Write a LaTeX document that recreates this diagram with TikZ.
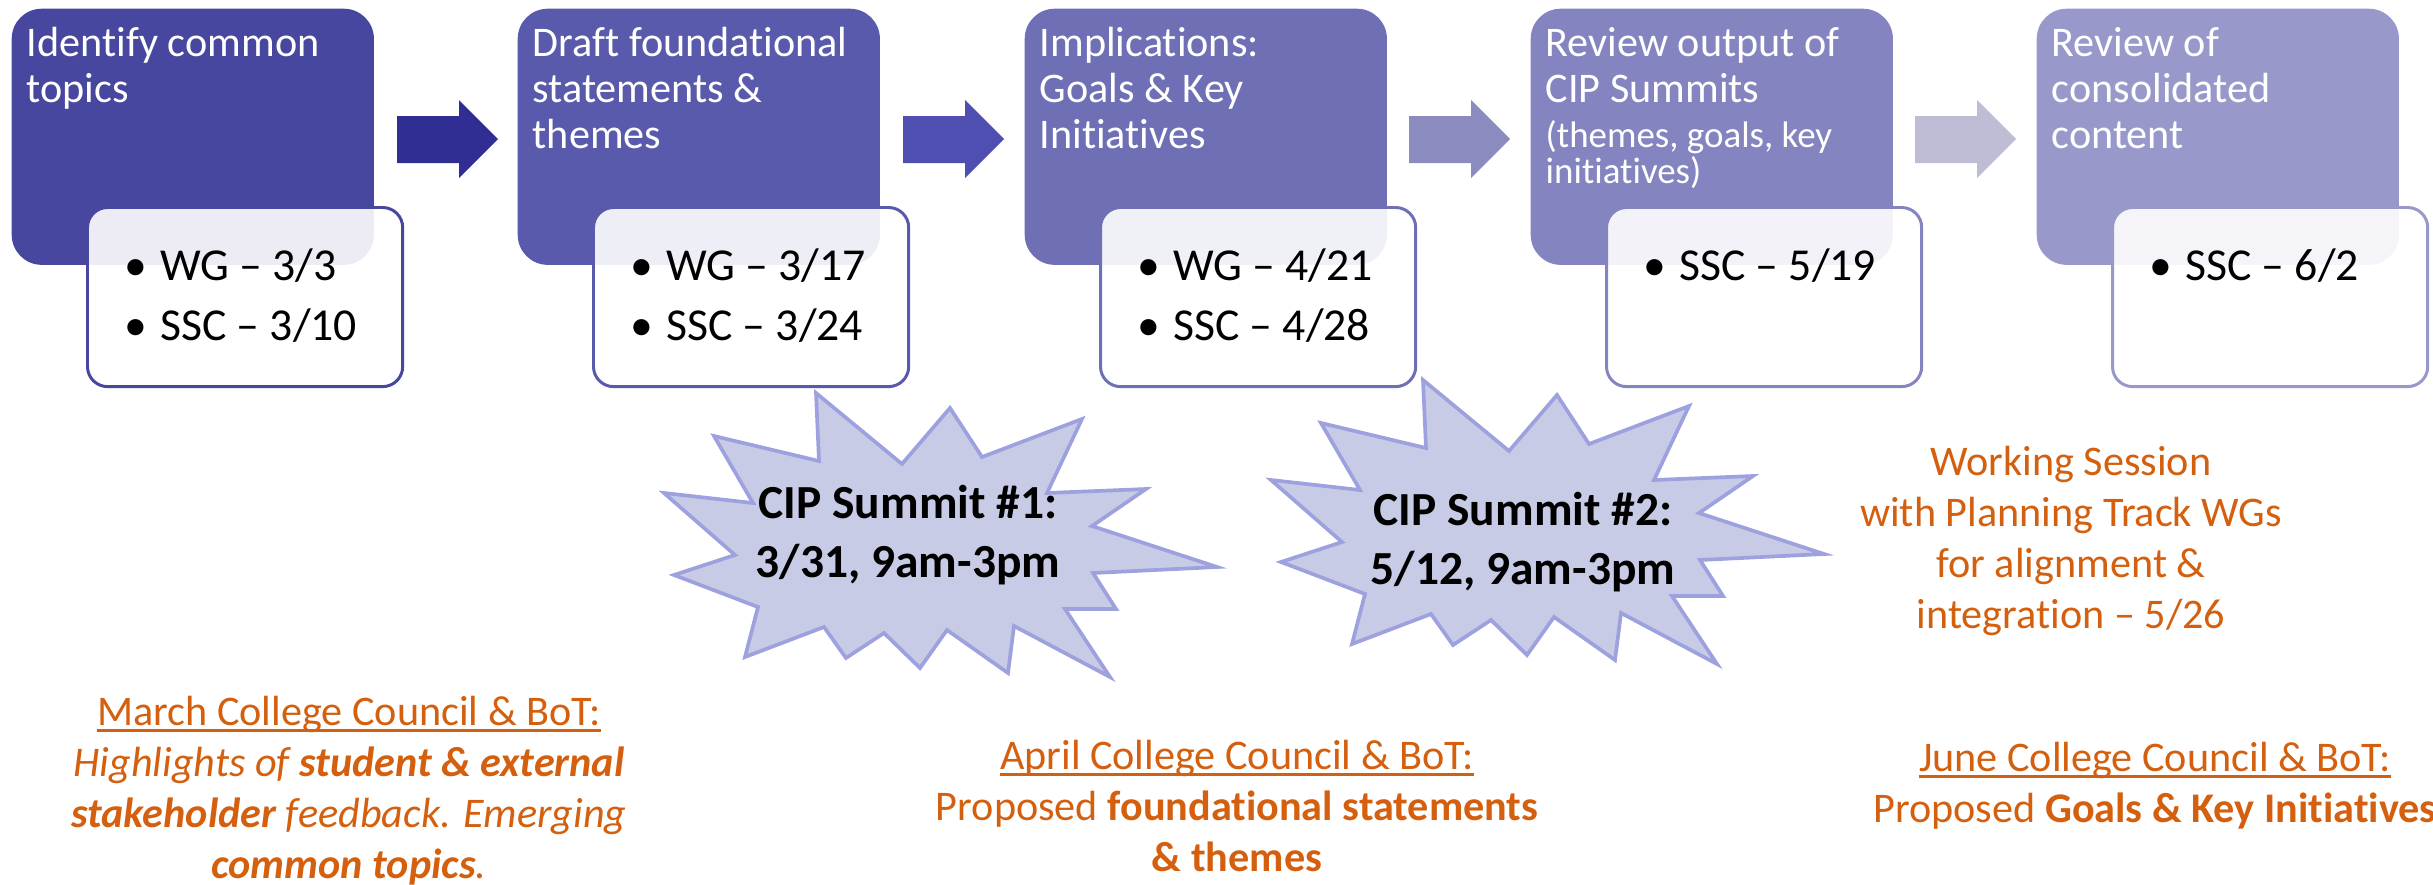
\documentclass[tikz,border=0pt]{standalone}
\usepackage{fontspec}
\setmainfont{Carlito}[Ligatures={TeX,NoCommon}]
\usetikzlibrary{positioning}

\definecolor{stageA}{RGB}{72,71,160}
\definecolor{stageB}{RGB}{90,90,172}
\definecolor{stageC}{RGB}{111,111,182}
\definecolor{stageD}{RGB}{132,132,192}
\definecolor{stageE}{RGB}{152,152,203}
\definecolor{arrowA}{RGB}{48,46,146}
\definecolor{arrowB}{RGB}{79,79,177}
\definecolor{arrowC}{RGB}{139,139,192}
\definecolor{arrowD}{RGB}{189,189,214}
\definecolor{meeting}{RGB}{212,95,14}
\definecolor{burstfill}{RGB}{200,203,230}
\definecolor{burstline}{RGB}{157,161,222}

\newsavebox{\ulbox}
\newcommand{\uln}[1]{\sbox{\ulbox}{#1}\rlap{\rule[-1.9pt]{\wd\ulbox}{0.8pt}}\usebox{\ulbox}}

\newcommand{\burstoutline}{(816,393) -- (902,464) -- (950,408) -- (982,457) -- (1082,419) -- (1047,493) -- (1146,489) -- (1092,526) -- (1217,567) -- (1093,573) -- (1116,609) -- (1065,609) -- (1110,677) -- (1014,626) -- (1008,673) -- (947,630) -- (920,668) -- (884,633) -- (846,658) -- (824,627) -- (745,657) -- (758,607) -- (674,575) -- (735,555) -- (664,493) -- (753,503) -- (714,436) -- (819,461) -- cycle}

\begin{document}
\begin{tikzpicture}[x=0.01cm,y=-0.01cm,
  datebox/.style={rectangle,rounded corners=0.2cm,fill=white,fill opacity=0.9,line width=0.85pt,minimum width=3.15cm,minimum height=1.79cm,anchor=north west,inner sep=0},
  datetext/.style={anchor=base west,align=left,inner sep=0,font=\fontsize{13}{17}\selectfont},
  burst/.style={fill=burstfill,draw=burstline,line width=1.05pt,line join=miter},
  summit/.style={anchor=base,align=center,inner sep=0,font=\bfseries\fontsize{13.5}{16.5}\selectfont},
  meet/.style={anchor=base,align=center,inner sep=0,text=meeting,font=\fontsize{12}{14.5}\selectfont}]
\useasboundingbox (0,0) rectangle (2433,884);

% stages
\begin{scope}[every node/.style={rectangle,rounded corners=0.3cm,minimum width=3.62cm,minimum height=2.56cm,anchor=north west,inner sep=0}]
\node[fill=stageA] (s1) at (11,8) {};
\node[fill=stageB] (s2) at (517,8) {};
\node[fill=stageC] (s3) at (1024,8) {};
\node[fill=stageD] (s4) at (1530,8) {};
\node[fill=stageE] (s5) at (2036,8) {};
\end{scope}

% stage titles (placed by their last baseline)
\begin{scope}[every node/.style={anchor=base west,align=left,inner sep=0,text=white,font=\fontsize{12}{13}\selectfont}]
\node (t1) at ([shift={(15,94)}]s1.north west) {Identify common\\topics};
\node (t2) at ([shift={(15,140)}]s2.north west) {Draft foundational\\statements \&\\themes};
\node (t3) at ([shift={(15,140)}]s3.north west) {Implications:\\Goals \& Key\\Initiatives};
\node (t4) at ([shift={(15,94)}]s4.north west) {Review output of\\CIP Summits};
\node[font=\fontsize{10.5}{10.2}\selectfont] (t4b) at ([shift={(15,175)}]s4.north west) {(themes, goals, key\\initiatives)};
\node (t5) at ([shift={(15,140)}]s5.north west) {Review of\\consolidated\\content};
\end{scope}

% arrows
\fill[arrowA] (397,116) -- ++(62,0) -- ++(0,-16) -- ++(39,39) -- ++(-39,39) -- ++(0,-15) -- ++(-62,0) -- cycle;
\fill[arrowB] (903,116) -- ++(62,0) -- ++(0,-16) -- ++(39,39) -- ++(-39,39) -- ++(0,-15) -- ++(-62,0) -- cycle;
\fill[arrowC] (1409,116) -- ++(62,0) -- ++(0,-16) -- ++(39,39) -- ++(-39,39) -- ++(0,-15) -- ++(-62,0) -- cycle;
\fill[arrowD] (1915,116) -- ++(62,0) -- ++(0,-16) -- ++(39,39) -- ++(-39,39) -- ++(0,-15) -- ++(-62,0) -- cycle;

% dates
\node[datebox,draw=stageA] (d1) at ([shift={(75,198)}]s1.north west) {};
\node[datebox,draw=stageB] (d2) at ([shift={(75,198)}]s2.north west) {};
\node[datebox,draw=stageC] (d3) at ([shift={(75,198)}]s3.north west) {};
\node[datebox,draw=stageD] (d4) at ([shift={(75,198)}]s4.north west) {};
\node[datebox,draw=stageE] (d5) at ([shift={(75,198)}]s5.north west) {};

\node[datetext] (w1) at ([shift={(38,134)}]d1.north west) {\textbullet\hspace{3.6pt}WG – 3/3\\\textbullet\hspace{3.6pt}SSC – 3/10};
\node[datetext] (w2) at ([shift={(38,134)}]d2.north west) {\textbullet\hspace{3.6pt}WG – 3/17\\\textbullet\hspace{3.6pt}SSC – 3/24};
\node[datetext] (w3) at ([shift={(38,134)}]d3.north west) {\textbullet\hspace{3.6pt}WG – 4/21\\\textbullet\hspace{3.6pt}SSC – 4/28};
\node[datetext] (w4) at ([shift={(38,74)}]d4.north west) {\textbullet\hspace{3.6pt}SSC – 5/19};
\node[datetext] (w5) at ([shift={(38,74)}]d5.north west) {\textbullet\hspace{3.6pt}SSC – 6/2};

% summits
\draw[burst] \burstoutline;
\draw[burst,shift={(607,-13)}] \burstoutline;
\node[summit] (sum1) at (908,577) {CIP Summit \#1:\\3/31, 9am-3pm};
\node[summit] (sum2) at (1523,584) {CIP Summit \#2:\\5/12, 9am-3pm};

% councils
\node[meet] (session) at (2071,628) {Working Session\\with Planning Track WGs\\for alignment \&\\integration – 5/26};
\node[meet] (march) at (349,878) {\uln{March College Council \& BoT:}\\\textit{Highlights of \textbf{student \& external}}\\\textit{\textbf{stakeholder} feedback. Emerging}\\\textit{\textbf{common topics}.}};
\node[meet] (april) at (1237,871) {\uln{April College Council \& BoT:}\\Proposed \textbf{foundational statements}\\\textbf{\& themes}};
\node[meet] (june) at (2155,822) {\uln{June College Council \& BoT:}\\Proposed \textbf{Goals \& Key Initiatives}};

\end{tikzpicture}
\end{document}
